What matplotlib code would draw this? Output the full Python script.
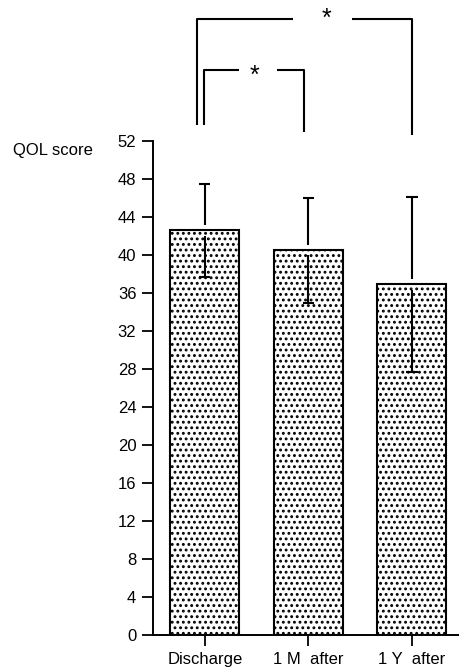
import matplotlib
matplotlib.use("Agg")
import matplotlib.pyplot as plt

categories = ["Discharge", "1 M  after", "1 Y  after"]
means = [42.6, 40.5, 36.9]
sds = [4.9, 5.5, 9.2]
yticks = list(range(0, 53, 4))
ylabel = "QOL score"
# significance comparisons: (index a, index b, label)
comparisons = [(0, 1, "*"), (0, 2, "*")]

plt.rcParams['font.family'] = ['Liberation Sans', 'DejaVu Sans']
plt.rcParams['hatch.linewidth'] = 1.3

fig = plt.figure(figsize=(4.6, 6.7), dpi=100)
ax = fig.add_axes([153/460, 35/670, 1 - 153/460, 494/670])

x = list(range(len(categories)))
ax.bar(x, means, width=0.667, color="white", edgecolor="black",
       linewidth=1.5, hatch="...", zorder=2)

gap = 0.55
for xi, m, s in zip(x, means, sds):
    ax.vlines(xi, m + gap, m + s, color="black", lw=1.5, zorder=3)
    ax.vlines(xi, m - s, m - gap, color="black", lw=1.5, zorder=3)
    ax.hlines([m + s, m - s], xi - 0.055, xi + 0.055, color="black", lw=1.5, zorder=3)

ax.set_xlim(-0.5, 2.465)
ax.set_ylim(0, 52)
ax.set_yticks(yticks)
ax.set_xticks(x)
ax.set_xticklabels(categories)
ax.tick_params(axis="both", direction="out", length=8, width=1.3,
               labelsize=12, pad=4, colors="black")
for side in ["top", "right"]:
    ax.spines[side].set_visible(False)
for side in ["left", "bottom"]:
    ax.spines[side].set_linewidth(1.4)

fig.text(13/460, 1 - 151/670, ylabel, fontsize=12, ha="left", va="center")

# significance brackets (annotation geometry)
bracket_style = [
    dict(lo=-0.01, ro=-0.04, top=59.5, lb=53.7, rb=52.9, g0=0.33, g1=0.70, sx=0.48, sy=58.9),
    dict(lo=-0.077, ro=0.0, top=64.8, lb=53.7, rb=52.6, g0=0.85, g1=1.42, sx=1.18, sy=64.9),
]
for (a, b, lab), st in zip(comparisons, bracket_style):
    xa = a + st["lo"]
    xb = b + st["ro"]
    kw = dict(color="black", lw=1.5, clip_on=False, solid_capstyle="butt")
    ax.plot([xa, xa, st["g0"]], [st["lb"], st["top"], st["top"]], **kw)
    ax.plot([st["g1"], xb, xb], [st["top"], st["top"], st["rb"]], **kw)
    ax.text(st["sx"], st["sy"], lab, ha="center", va="center", fontsize=18,
            clip_on=False)

fig.savefig("out.png", dpi=100)
